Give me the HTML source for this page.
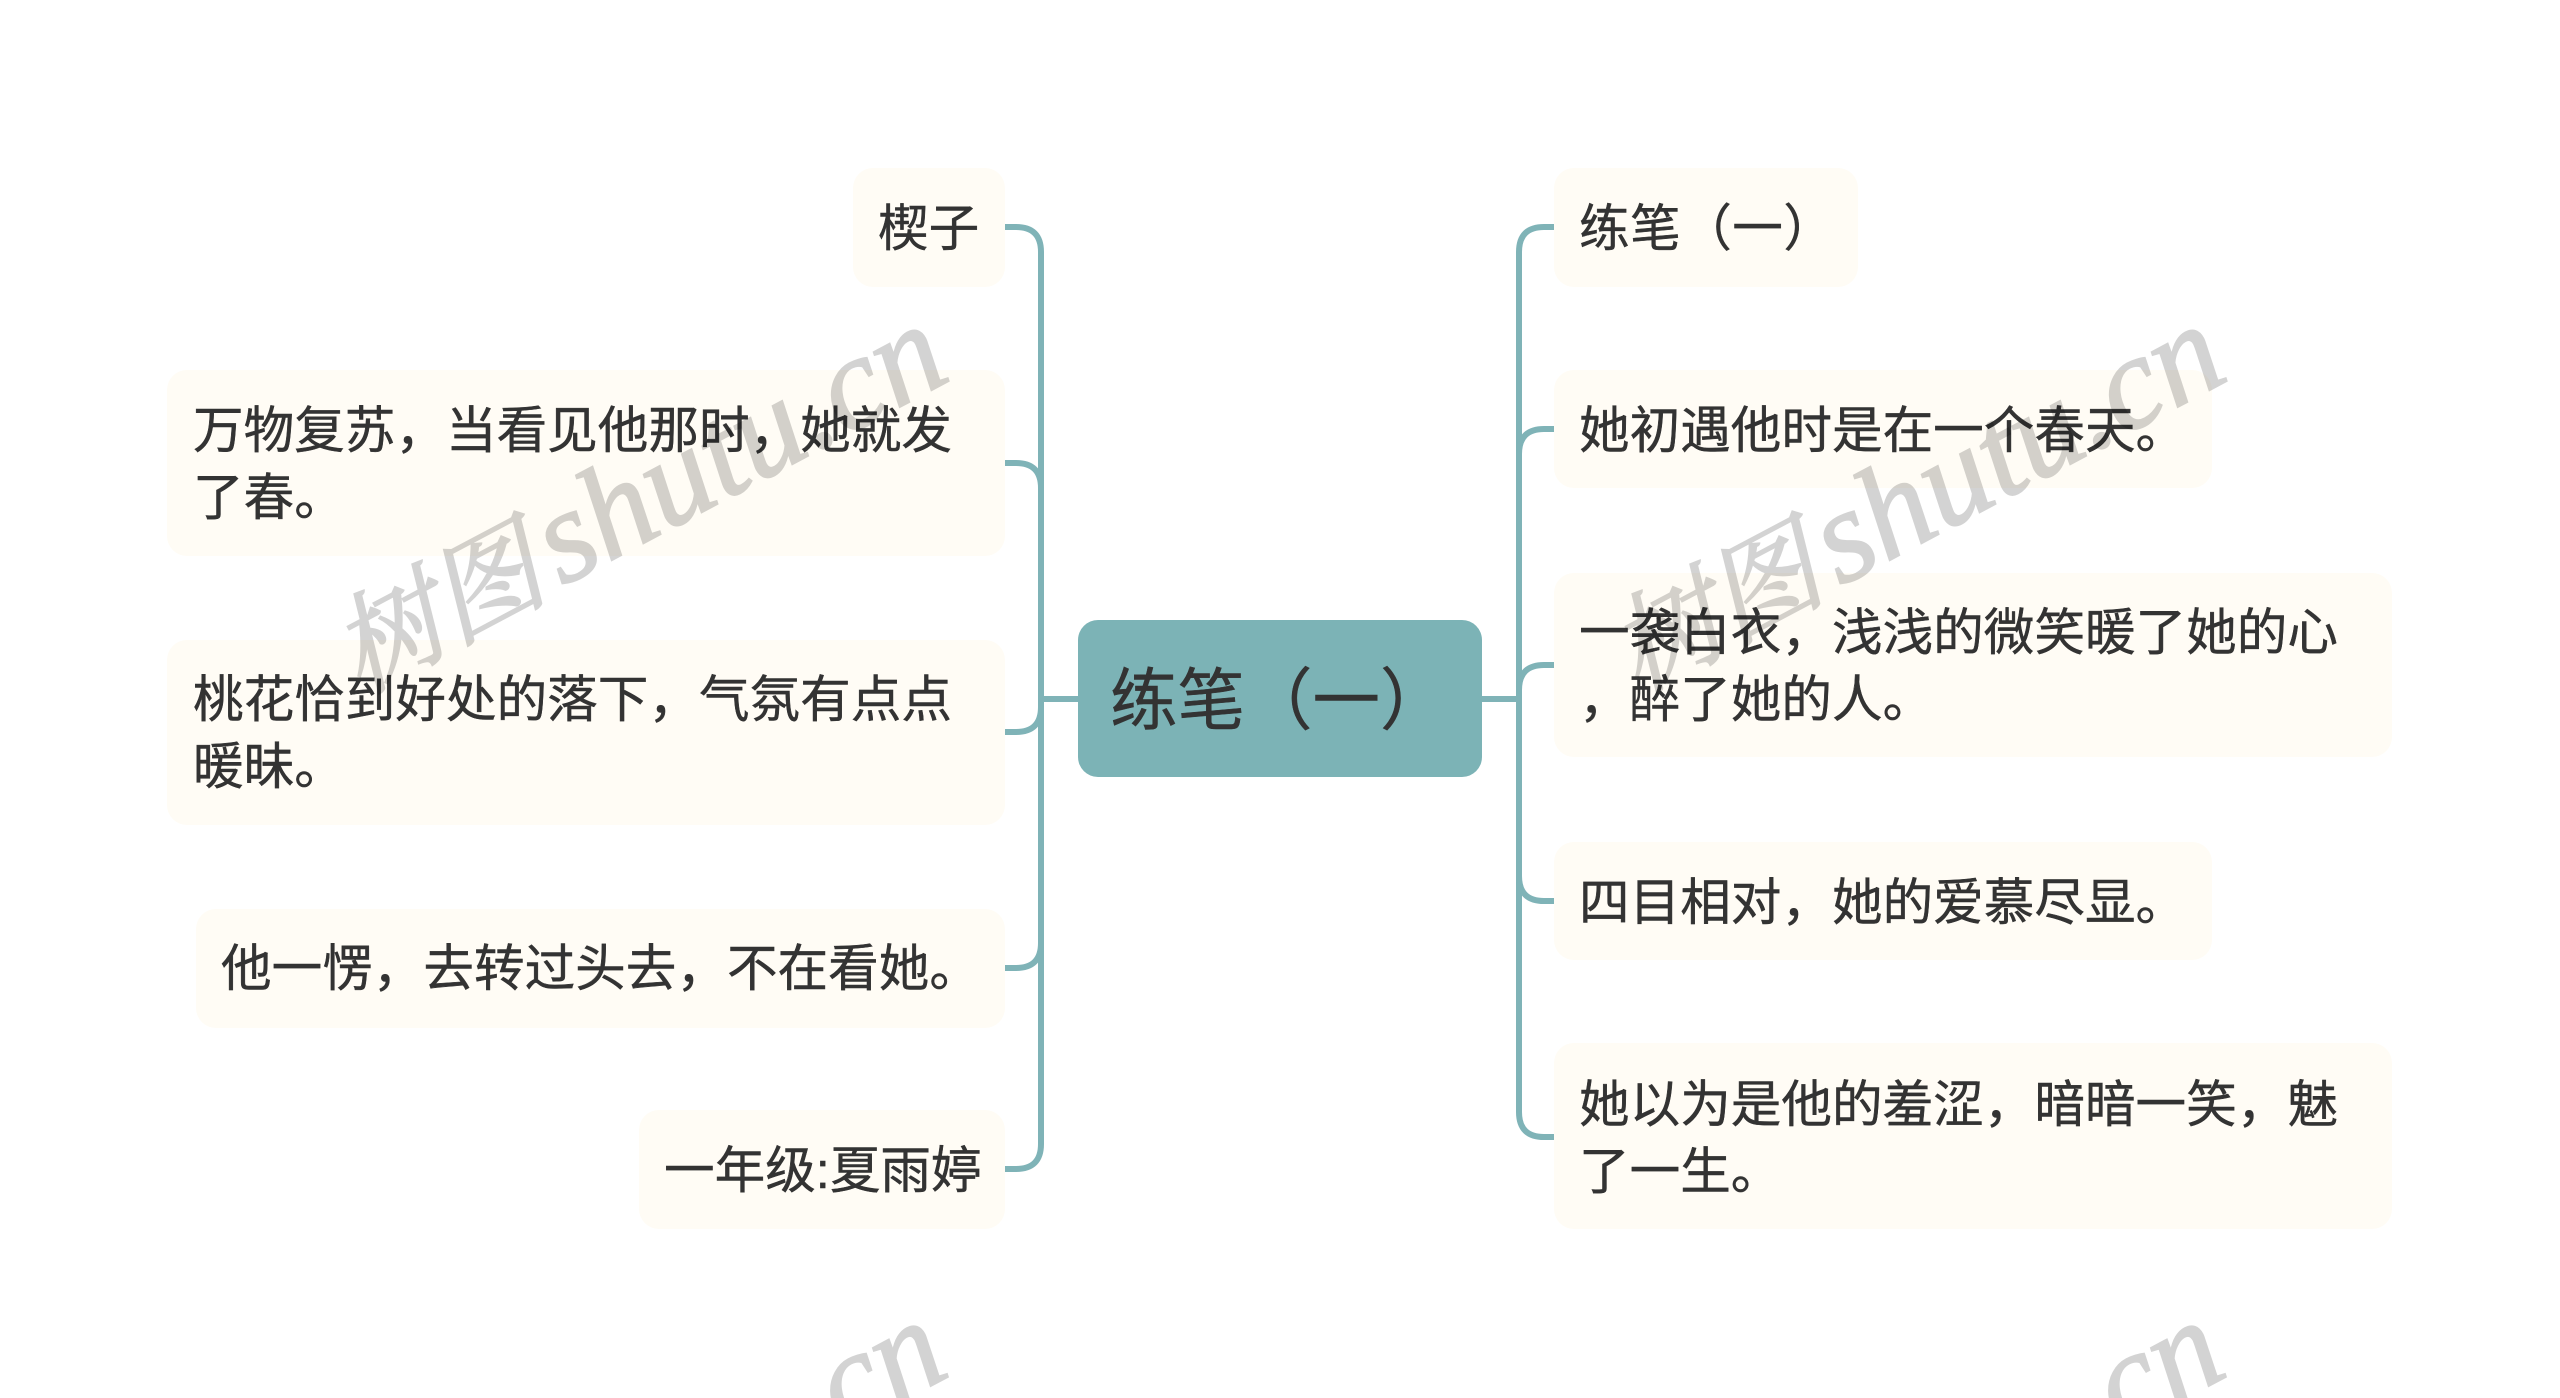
<!DOCTYPE html>
<html lang="zh"><head><meta charset="utf-8"><title>练笔（一）</title>
<style>
html,body{margin:0;padding:0;background:#fff;width:2560px;height:1398px;overflow:hidden}
#c{position:relative;width:2560px;height:1398px;overflow:hidden;background:#fff;font-family:"Liberation Sans","Noto Sans CJK SC",sans-serif;color:#333}
.n{position:absolute;background:#fffcf5;border-radius:20px}
.t{position:absolute;white-space:nowrap;font-size:50.6px;line-height:67px;color:#333;-webkit-text-stroke:.45px #333}
.r{position:absolute;left:1078px;top:620px;width:404px;height:157px;background:#7cb3b6;border-radius:20px}
svg{position:absolute;left:0;top:0}
</style></head><body><div id="c">
<div class="n" style="left:853px;top:168px;width:152px;height:119px"></div>
<div class="n" style="left:167px;top:370px;width:838px;height:186px"></div>
<div class="n" style="left:167px;top:640px;width:838px;height:185px"></div>
<div class="n" style="left:196px;top:909px;width:809px;height:119px"></div>
<div class="n" style="left:639px;top:1110px;width:366px;height:119px"></div>
<div class="n" style="left:1554px;top:168px;width:304px;height:119px"></div>
<div class="n" style="left:1554px;top:370px;width:658px;height:118px"></div>
<div class="n" style="left:1554px;top:573px;width:838px;height:184px"></div>
<div class="n" style="left:1554px;top:842px;width:658px;height:118px"></div>
<div class="n" style="left:1554px;top:1043px;width:838px;height:186px"></div>
<div class="r"></div>
<svg width="2560" height="1398" viewBox="0 0 2560 1398" fill="none" stroke="#7fb3b7" stroke-width="6">
<path d="M1005 227H1016Q1041 227 1041 252V1144Q1041 1169 1016 1169H1005"/>
<path d="M1005 463H1016Q1041 463 1041 488"/>
<path d="M1005 732H1016Q1041 732 1041 707"/>
<path d="M1005 968H1016Q1041 968 1041 943"/>
<path d="M1041 699H1078"/>
<path d="M1554 227H1544Q1519 227 1519 252V1112Q1519 1137 1544 1137H1554"/>
<path d="M1554 429H1544Q1519 429 1519 454"/>
<path d="M1554 665H1544Q1519 665 1519 690"/>
<path d="M1554 901H1544Q1519 901 1519 876"/>
<path d="M1482 699H1519"/>
</svg>
<div class="t" style="left:878px;top:195px">楔子</div>
<div class="t" style="left:193px;top:397px">万物复苏，当看见他那时，她就发<br>了春。</div>
<div class="t" style="left:193px;top:666px">桃花恰到好处的落下，气氛有点点<br>暖昧。</div>
<div class="t" style="left:221px;top:935px">他一愣，去转过头去，不在看她。</div>
<div class="t" style="left:664px;top:1137px">一年级:夏雨婷</div>
<div class="t" style="left:1579px;top:195px;letter-spacing:.5px">练笔（一）</div>
<div class="t" style="left:1579px;top:397px">她初遇他时是在一个春天。</div>
<div class="t" style="left:1579px;top:599px">一袭白衣，浅浅的微笑暖了她的心<br>，醉了她的人。</div>
<div class="t" style="left:1579px;top:869px">四目相对，她的爱慕尽显。</div>
<div class="t" style="left:1579px;top:1071px">她以为是他的羞涩，暗暗一笑，魅<br>了一生。</div>
<div class="t" style="left:1110px;top:663px;font-size:67.5px;line-height:78px">练笔（一）</div>
<svg width="2560" height="1398" viewBox="0 0 2560 1398" opacity=".17" style="font-family:'Liberation Serif','Noto Serif CJK SC',serif;font-style:italic;font-size:132px;fill:#000;stroke:#000;stroke-width:2">
<text transform="translate(360 694) rotate(-28)"><tspan font-size="108">树图</tspan><tspan font-size="52"> </tspan>shutu.cn</text>
<text transform="translate(1638 694) rotate(-28)"><tspan font-size="108">树图</tspan><tspan font-size="52"> </tspan>shutu.cn</text>
<text transform="translate(814 1448) rotate(-28)">.cn</text>
<text transform="translate(2092 1448) rotate(-28)">.cn</text>
</svg>
</div></body></html>
